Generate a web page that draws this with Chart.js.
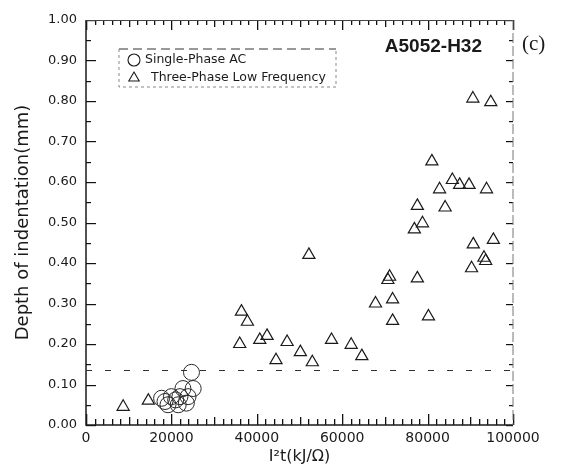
<!DOCTYPE html>
<html>
<head>
<meta charset="utf-8">
<script src="https://cdn.jsdelivr.net/npm/chart.js@4"></script>
<style>
    html, body { margin: 0; padding: 0; background: #fff; }
    #wrap { width: 566px; height: 465px; }
</style>
</head>
<body>
<div id="wrap"><canvas id="indentChart" width="566" height="465"></canvas></div>
<script>
// Single-phase AC welds (kJ/ohm, mm)
const singlePhaseX = [24.7, 25.1, 22.7, 22.0, 17.7, 20.0, 19.2, 21.6, 23.5, 18.5, 23.9, 21.0];
const singlePhaseY = [0.13, 0.09, 0.09, 0.07, 0.066, 0.07, 0.05, 0.05, 0.054, 0.058, 0.07, 0.062];

// Three-phase low frequency welds
const threePhaseX = [8.7, 14.6, 36.0, 36.4, 37.8, 40.7, 42.4, 44.5, 47.1, 50.2, 52.2, 53.0, 57.5,
    62.1, 64.6, 67.8, 70.7, 71.1, 71.8, 71.8, 76.9, 77.6, 77.6, 78.8, 80.2, 81.0, 82.8, 84.1,
    85.8, 87.5, 89.7, 90.6, 90.7, 90.3, 93.2, 93.6, 93.8, 94.8, 95.4];
const threePhaseY = [0.045, 0.06, 0.20, 0.28, 0.255, 0.21, 0.22, 0.16, 0.205, 0.18, 0.42, 0.155, 0.21,
    0.198, 0.17, 0.30, 0.358, 0.366, 0.31, 0.257, 0.483, 0.541, 0.362, 0.498, 0.268, 0.651, 0.582, 0.537,
    0.605, 0.593, 0.593, 0.806, 0.446, 0.387, 0.413, 0.405, 0.582, 0.797, 0.457];

// Axis settings
const xTickValues = [0, 20000, 40000, 60000, 80000, 100000];
const yTickValues = [0, 0.1, 0.2, 0.3, 0.4, 0.5, 0.6, 0.7, 0.8, 0.9, 1.0];
const thresholdDepth = [0.137];
const seriesLabels = ['Single-Phase AC', 'Three-Phase Low Frequency'];
const materialLabel = 'A5052-H32';
const panelLabel = '(c)';

const ink = '#1a1a1a';

function toPoints(xs, ys) {
    return xs.map((x, i) => ({ x: x * 1000, y: ys[i] }));
}

// Frame, inner ticks, dashed threshold, legend and labels
const decorations = {
    id: 'decorations',
    afterDraw(chart) {
        const { ctx, chartArea: a } = chart;
        const xs = chart.scales.x;
        const ys = chart.scales.y;
        ctx.save();
        ctx.setLineDash([]);

        // x ticks, bottom and top
        ctx.fillStyle = '#111';
        for (let k = 0; k <= 50; k++) {
            const px = Math.round(xs.getPixelForValue(k * 2000));
            const len = k % 10 === 0 ? 11 : (k % 5 === 0 ? 8 : 6);
            ctx.fillRect(px, a.bottom - len, 1.3, len);
            ctx.fillRect(px, a.top, 1.3, len - 1);
        }

        // y ticks, left and right
        for (let i = 0; i <= 20; i++) {
            const py = Math.round(ys.getPixelForValue(i * 0.05));
            const len = i % 2 === 0 ? 10 : 5;
            ctx.fillRect(a.left, py, len, 1.2);
            const rl = i % 2 === 0 ? 7 : 4;
            ctx.fillRect(a.right - rl, py, rl, 1.2);
        }

        // frame
        ctx.strokeStyle = ink;
        ctx.lineWidth = 1.5;
        ctx.beginPath();
        ctx.moveTo(a.left, a.top);
        ctx.lineTo(a.left, a.bottom);
        ctx.lineTo(a.right, a.bottom);
        ctx.stroke();
        ctx.lineWidth = 1;
        ctx.strokeStyle = '#444';
        ctx.beginPath();
        ctx.moveTo(a.left, a.top + 0.5);
        ctx.lineTo(a.right, a.top + 0.5);
        ctx.stroke();
        ctx.strokeStyle = '#777';
        ctx.setLineDash([10, 3]);
        ctx.beginPath();
        ctx.moveTo(a.right, a.top);
        ctx.lineTo(a.right, a.bottom);
        ctx.stroke();
        ctx.setLineDash([]);

        // threshold line
        const ty = Math.round(ys.getPixelForValue(thresholdDepth[0])) + 0.5;
        ctx.strokeStyle = '#333';
        ctx.lineWidth = 1;
        ctx.setLineDash([6, 13]);
        ctx.beginPath();
        ctx.moveTo(a.left, ty);
        ctx.lineTo(a.right, ty);
        ctx.stroke();
        ctx.setLineDash([]);

        // legend box
        const lx = 119, ly = 49, lw = 217, lh = 38;
        ctx.strokeStyle = '#333';
        ctx.setLineDash([9, 5]);
        ctx.beginPath();
        ctx.moveTo(lx, ly);
        ctx.lineTo(lx + lw, ly);
        ctx.stroke();
        ctx.strokeStyle = '#888';
        ctx.setLineDash([3, 3]);
        ctx.beginPath();
        ctx.moveTo(lx, ly);
        ctx.lineTo(lx, ly + lh);
        ctx.lineTo(lx + lw, ly + lh);
        ctx.lineTo(lx + lw, ly);
        ctx.stroke();
        ctx.setLineDash([]);

        const styles = ['circle', 'triangle'];
        const textX = [145, 151];
        ctx.font = '12.5px "DejaVu Sans"';
        ctx.textBaseline = 'middle';
        ctx.textAlign = 'left';
        seriesLabels.forEach((label, i) => {
            const rowY = ly + 11 + i * 18;
            ctx.strokeStyle = ink;
            ctx.fillStyle = 'rgba(0,0,0,0)';
            ctx.lineWidth = 1.1;
            Chart.helpers.drawPoint(ctx, { pointStyle: styles[i], radius: 6, borderWidth: 1.1 },
                lx + 15, rowY);
            ctx.fillStyle = ink;
            ctx.fillText(label, textX[i], rowY);
        });

        // material and panel labels
        ctx.fillStyle = ink;
        ctx.font = 'bold 19px "Liberation Sans"';
        ctx.textAlign = 'right';
        ctx.fillText(materialLabel, 482, 47);
        ctx.font = '21px "Liberation Serif"';
        ctx.textAlign = 'left';
        ctx.fillText(panelLabel, 522, 44);

        ctx.restore();
    }
};

const ctx = document.getElementById('indentChart').getContext('2d');

new Chart(ctx, {
    type: 'scatter',
    data: {
        datasets: [
            {
                label: seriesLabels[0],
                data: toPoints(singlePhaseX, singlePhaseY),
                pointStyle: 'circle',
                pointRadius: 8,
                borderColor: '#2a2a2a',
                backgroundColor: 'rgba(0,0,0,0)',
                borderWidth: 1
            },
            {
                label: seriesLabels[1],
                data: toPoints(threePhaseX, threePhaseY),
                pointStyle: 'triangle',
                pointRadius: 7,
                borderColor: ink,
                backgroundColor: 'rgba(0,0,0,0)',
                borderWidth: 1.2
            }
        ]
    },
    options: {
        responsive: false,
        animation: false,
        layout: { padding: { left: 8, right: 53, top: 20, bottom: 0 } },
        plugins: {
            legend: { display: false },
            tooltip: { enabled: false }
        },
        scales: {
            x: {
                type: 'linear',
                min: 0,
                max: 100000,
                afterBuildTicks: scale => { scale.ticks = xTickValues.map(v => ({ value: v })); },
                afterFit: scale => { scale.height = 40; },
                grid: { display: false, drawTicks: false },
                border: { display: false },
                ticks: {
                    padding: 5,
                    color: ink,
                    font: { family: 'DejaVu Sans', size: 14 },
                    maxRotation: 0,
                    callback: v => String(v)
                },
                title: {
                    display: true,
                    text: 'I²t(kJ/Ω)',
                    color: ink,
                    font: { family: 'DejaVu Sans', size: 16, lineHeight: 1 },
                    padding: { top: 0, bottom: 0 }
                }
            },
            y: {
                type: 'linear',
                min: 0,
                max: 1,
                afterBuildTicks: scale => { scale.ticks = yTickValues.map(v => ({ value: v })); },
                afterFit: scale => { scale.width = 78; },
                grid: { display: false, drawTicks: false },
                border: { display: false },
                ticks: {
                    padding: 9,
                    color: ink,
                    font: { family: 'DejaVu Sans', size: 13 },
                    callback: v => v.toFixed(2)
                },
                title: {
                    display: true,
                    text: 'Depth of indentation(mm)',
                    color: ink,
                    font: { family: 'DejaVu Sans', size: 18, lineHeight: 1.2 },
                    padding: { top: 5, bottom: 0 }
                }
            }
        }
    },
    plugins: [decorations]
});
</script>
</body>
</html>
